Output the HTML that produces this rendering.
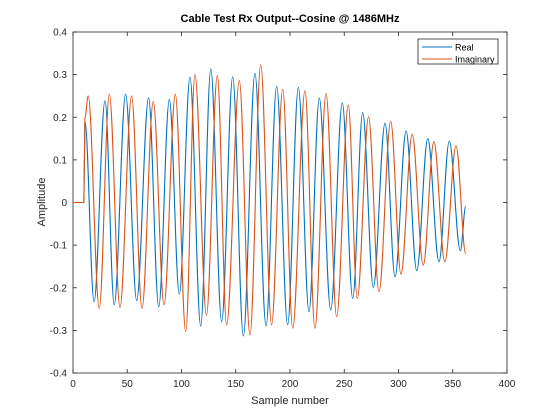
<!DOCTYPE html>
<html><head><meta charset="utf-8"><style>
body{margin:0;background:#fff;}
svg{display:block;font-family:"Liberation Sans",Arial,sans-serif;}
</style></head><body>
<svg id="chart" width="560" height="420" viewBox="0 0 560 420">
<rect width="560" height="420" fill="#fff"/>
<g id="grid"></g>
<g id="series"></g>
<text x="290" y="22" text-anchor="middle" font-size="11" font-weight="bold" fill="#000">Cable Test Rx Output--Cosine @ 1486MHz</text>
<text x="290" y="404" text-anchor="middle" font-size="11" fill="#262626">Sample number</text>
<text transform="translate(45,202) rotate(-90)" text-anchor="middle" font-size="11" fill="#262626">Amplitude</text>
<g>
<rect x="418" y="39" width="80" height="25" fill="#fff" stroke="#262626" stroke-width="0.8"/>
<line x1="422" y1="47" x2="452" y2="47" stroke="#0072BD" stroke-width="1"/>
<text x="455" y="50.5" font-size="9" fill="#000">Real</text>
<line x1="422" y1="59" x2="452" y2="59" stroke="#D95319" stroke-width="1"/>
<text x="455" y="62.5" font-size="9" fill="#000">Imaginary</text>
</g>
</svg>
<script>
const xTicks=[0,50,100,150,200,250,300,350,400];
const yTicks=[-0.4,-0.3,-0.2,-0.1,0,0.1,0.2,0.3,0.4];
const yTickLabels=["-0.4","-0.3","-0.2","-0.1","0","0.1","0.2","0.3","0.4"];
const realX=[0,10,11,19.4,29.5,38,48.5,58.7,69.7,79,88.8,98,107.8,117.7,127,137,147.2,157,167.7,177.9,187.7,197.8,207.7,217.5,227,237.5,248.2,257.8,267,276.8,287.6,296.8,307,316.8,327,337.3,346.8,357,362];
const realY=[0,0,0.19,-0.233,0.239,-0.24,0.254,-0.23,0.246,-0.245,0.242,-0.215,0.294,-0.29,0.313,-0.28,0.295,-0.313,0.303,-0.29,0.273,-0.287,0.27,-0.256,0.245,-0.252,0.234,-0.225,0.211,-0.199,0.186,-0.174,0.168,-0.16,0.15,-0.139,0.144,-0.113,-0.008];
const imagX=[0,10,11,14,24.2,33.5,43.3,54,63.6,74,83.9,94.3,103.9,112.4,123,133,141.6,153.3,163.1,173,183,193.3,202.5,213.8,223,233.2,243,253.7,262,272.4,282,292.8,302.3,312.6,322.8,332.6,342.7,353,362];
const imagY=[0,0,0.2,0.25,-0.248,0.254,-0.246,0.25,-0.248,0.237,-0.24,0.254,-0.303,0.3,-0.264,0.298,-0.287,0.286,-0.311,0.323,-0.287,0.266,-0.295,0.262,-0.295,0.256,-0.268,0.229,-0.225,0.201,-0.209,0.19,-0.168,0.16,-0.147,0.143,-0.139,0.133,-0.121];

const L=73,R=507,T=32,B=373;
const sx=v=>L+(v-0)/(400-0)*(R-L);
const sy=v=>B-(v+0.4)/0.8*(B-T);
const NS="http://www.w3.org/2000/svg";
const ax=document.getElementById('grid');
function mk(tag,attrs,parent){const e=document.createElementNS(NS,tag);for(const k in attrs)e.setAttribute(k,attrs[k]);parent.appendChild(e);return e;}

xTicks.forEach((t,i)=>{
  const x=sx(t);
  const a=mk('line',{x1:x,y1:B,x2:x,y2:B-4,stroke:'#262626','stroke-width':0.8},ax);
  
  
  const b=mk('line',{x1:x,y1:T,x2:x,y2:T+4,stroke:'#262626','stroke-width':0.8},ax);
  
  
  const tx=mk('text',{x:x,y:B+14,'text-anchor':'middle','font-size':10,fill:'#262626'},ax);
  tx.textContent=String(t);
  
  
});
yTicks.forEach((t,i)=>{
  const y=sy(t);
  const a=mk('line',{x1:L,y1:y,x2:L+4,y2:y,stroke:'#262626','stroke-width':0.8},ax);
  
  
  const b=mk('line',{x1:R,y1:y,x2:R-4,y2:y,stroke:'#262626','stroke-width':0.8},ax);
  
  
  const tx=mk('text',{x:L-6,y:y+3.5,'text-anchor':'end','font-size':10,fill:'#262626'},ax);
  tx.textContent=yTickLabels[i];
  
  
});
const box=mk('rect',{x:L,y:T,width:R-L,height:B-T,fill:'none',stroke:'#262626','stroke-width':0.8},ax);



function pathFor(xs,ys){
  let d='M'+sx(xs[0])+','+sy(ys[0]);
  for(let i=1;i<xs.length;i++){
    const x0=sx(xs[i-1]),y0=sy(ys[i-1]),x1=sx(xs[i]),y1=sy(ys[i]);
    if(i<=2){d+=' L'+x1+','+y1;continue;}
    const dx=(x1-x0)*0.36;
    d+=' C'+(x0+dx)+','+y0+' '+(x1-dx)+','+y1+' '+x1+','+y1;
  }
  return d;
}
const sg=document.getElementById('series');
const pr=mk('path',{d:pathFor(realX,realY),fill:'none',stroke:'#0072BD','stroke-width':1.1},sg);


const pi=mk('path',{d:pathFor(imagX,imagY),fill:'none',stroke:'#D95319','stroke-width':1.1},sg);


</script>
</body></html>
